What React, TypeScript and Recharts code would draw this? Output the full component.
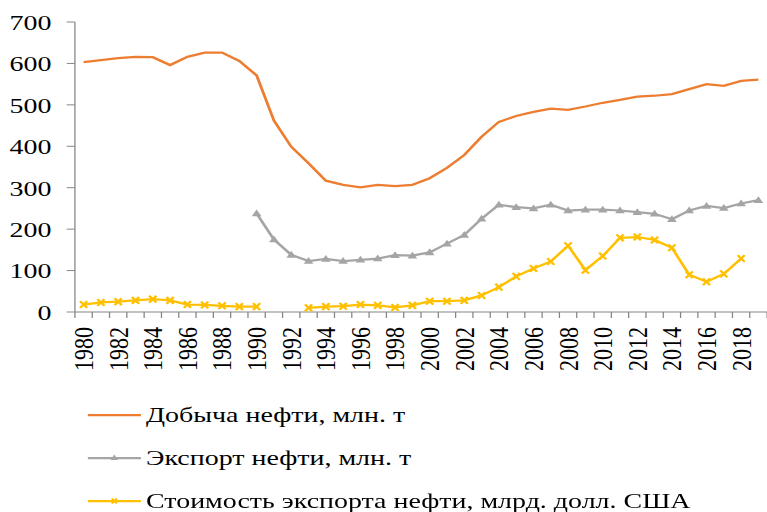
import React from "react";
import { Legend, Line, LineChart, XAxis, YAxis } from "recharts";

const years = [
  1980, 1981, 1982, 1983, 1984, 1985, 1986, 1987, 1988, 1989,
  1990, 1991, 1992, 1993, 1994, 1995, 1996, 1997, 1998, 1999,
  2000, 2001, 2002, 2003, 2004, 2005, 2006, 2007, 2008, 2009,
  2010, 2011, 2012, 2013, 2014, 2015, 2016, 2017, 2018, 2019,
];

// добыча нефти, млн. т
const production = [
  603, 608, 613, 616, 615, 596, 616, 626, 626, 606,
  571, 462, 399, 359, 317, 307, 301, 307, 304, 307,
  323, 348, 379, 423, 459, 473, 483, 491, 488, 496,
  505, 512, 520, 522, 526, 538, 550, 546, 558, 561,
];

// экспорт нефти, млн. т
const exports = [
  null, null, null, null, null, null, null, null, null, null,
  238, 175, 138, 123, 128, 123, 126, 129, 137, 136,
  144, 165, 186, 225, 259, 253, 250, 259, 245, 247,
  247, 245, 241, 237, 224, 245, 256, 251, 262, 270,
];

// стоимость экспорта, млрд. долл.
const exportValue = [
  18, 23, 25, 28, 31, 28, 18, 17, 15, 13,
  13, null, null, 10, 13, 14, 18, 16, 11, 16,
  26, 26, 28, 40, 60, 86, 105, 122, 160, 101,
  135, 179, 181, 174, 155, 90, 73, 92, 129, null,
];

const yTicks = [0, 100, 200, 300, 400, 500, 600, 700];

const seriesNames = [
  "Добыча нефти, млн. т",
  "Экспорт нефти, млн. т",
  "Стоимость экспорта нефти, млрд. долл. США",
];

const data = years.map((y, i) => ({
  year: y,
  production: production[i],
  exports: exports[i],
  exportValue: exportValue[i],
}));

// the reference image is stretched horizontally, so the chart is drawn narrower and scaled
const STRETCH = 1.27;
const W = 604;
const H = 512;
const AXIS_W = 59;
const BAND = (W - AXIS_W) / years.length;
const FONT = "Liberation Serif";
const AXIS_COLOR = "#868686";

const ORANGE = "#ED7D31";
const GRAY = "#A5A5A5";
const YELLOW = "#FFC000";

const XTick = (props: any) => {
  const { x, y, payload, index } = props;
  const yr = payload.value as number;
  return (
    <g>
      <line x1={x + BAND / 2} x2={x + BAND / 2} y1={y} y2={y + 6} stroke={AXIS_COLOR} />
      {index === 0 && (
        <line x1={x - BAND / 2} x2={x - BAND / 2} y1={y} y2={y + 6} stroke={AXIS_COLOR} />
      )}
      {yr % 2 === 0 && (
        <text
          x={0}
          y={0}
          transform={`translate(${x},${y + 15}) rotate(-90)`}
          textAnchor="end"
          dominantBaseline="central"
          style={{ fontFamily: FONT, fontSize: 22 }}
          fill="#000"
        >
          {yr}
        </text>
      )}
    </g>
  );
};

const Triangle = (props: any) => {
  const { cx, cy, value } = props;
  if (value == null || cx == null) return <g />;
  return (
    <path
      d={`M${cx},${cy - 4} L${cx + 3.8},${cy + 2.8} L${cx - 3.8},${cy + 2.8} Z`}
      fill={GRAY}
    />
  );
};

const Cross = (props: any) => {
  const { cx, cy, value } = props;
  if (value == null || cx == null) return <g />;
  return (
    <path
      d={`M${cx - 2.8},${cy - 3.4} L${cx + 2.8},${cy + 3.4} M${cx + 2.8},${cy - 3.4} L${cx - 2.8},${cy + 3.4}`}
      stroke={YELLOW}
      strokeWidth={2}
      fill="none"
    />
  );
};

const LegendContent = () => {
  const colors = [ORANGE, GRAY, YELLOW];
  return (
    <div style={{ fontFamily: FONT, fontSize: 22, color: "#000", height: 129 }}>
      {seriesNames.map((name, i) => (
        <div
          key={name}
          style={{ display: "flex", alignItems: "center", height: 43, whiteSpace: "nowrap" }}
        >
          <svg width={42} height={12} style={{ display: "block" }}>
            <line x1={0} x2={42} y1={6} y2={6} stroke={colors[i]} strokeWidth={2.25} />
            {i === 1 && <path d="M21,2.5 L24,8 L18,8 Z" fill={GRAY} />}
            {i === 2 && (
              <path d="M19,3.5 L23,8.5 M23,3.5 L19,8.5" stroke={YELLOW} strokeWidth={1.8} />
            )}
          </svg>
          <span style={{ marginLeft: 4, lineHeight: "43px" }}>{name}</span>
        </div>
      ))}
    </div>
  );
};

export default function App() {
  return (
    <div
      style={{
        position: "absolute",
        left: 0,
        top: 0,
        width: W,
        height: H,
        background: "#fff",
        fontFamily: FONT,
        transform: `scaleX(${STRETCH})`,
        transformOrigin: "left top",
      }}
    >
      <LineChart
        width={W}
        height={H}
        data={data}
        margin={{ top: 22, right: 0, left: 0, bottom: 6 }}
      >
        <XAxis
          dataKey="year"
          scale="band"
          interval={0}
          tickSize={0}
          tickMargin={0}
          tickLine={false}
          height={65}
          axisLine={{ stroke: AXIS_COLOR }}
          tick={(p: any) => <XTick {...p} />}
        />
        <YAxis
          domain={[0, 700]}
          ticks={yTicks}
          width={AXIS_W}
          tickSize={6.5}
          tickMargin={12}
          axisLine={{ stroke: AXIS_COLOR }}
          tickLine={{ stroke: AXIS_COLOR }}
          tick={{ fill: "#000", fontSize: 22, style: { fontFamily: FONT } }}
        />
        <Legend
          verticalAlign="bottom"
          align="left"
          content={() => <LegendContent />}
          wrapperStyle={{ left: 69, top: 393, bottom: "auto", width: "auto" }}
        />
        <Line
          type="linear"
          dataKey="production"
          name={seriesNames[0]}
          stroke={ORANGE}
          strokeWidth={2.25}
          dot={false}
          isAnimationActive={false}
        />
        <Line
          type="linear"
          dataKey="exports"
          name={seriesNames[1]}
          stroke={GRAY}
          strokeWidth={2.25}
          dot={(p: any) => <Triangle key={`t${p.index}`} {...p} />}
          isAnimationActive={false}
        />
        <Line
          type="linear"
          dataKey="exportValue"
          name={seriesNames[2]}
          stroke={YELLOW}
          strokeWidth={2.25}
          dot={(p: any) => <Cross key={`c${p.index}`} {...p} />}
          isAnimationActive={false}
        />
      </LineChart>
    </div>
  );
}
